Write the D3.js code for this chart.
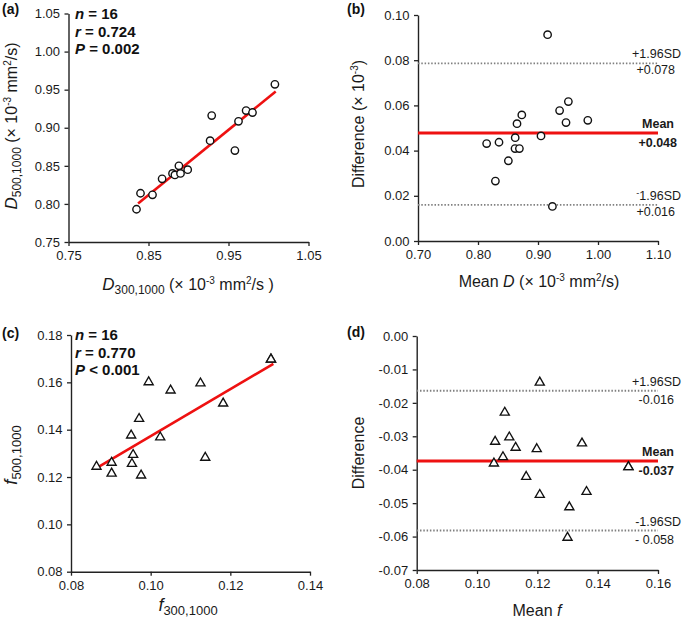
<!DOCTYPE html>
<html>
<head>
<meta charset="utf-8">
<script src="https://cdn.jsdelivr.net/npm/d3@7"></script>
<style>
  html, body { margin: 0; padding: 0; background: #fff; }
  svg { display: block; font-family: "Liberation Sans", Arial, Helvetica, sans-serif; }
</style>
</head>
<body>
<svg id="chart" width="685" height="624"></svg>
<script>
// ---------- DATA ----------
// Panel (a): D300,1000 vs D500,1000
const aX = [0.835, 0.840, 0.855, 0.867, 0.880, 0.883, 0.888, 0.890, 0.899, 0.927, 0.929, 0.958, 0.9625, 0.972, 0.980, 1.008];
const aY = [0.793, 0.814, 0.812, 0.833, 0.840, 0.838, 0.850, 0.840, 0.845, 0.883, 0.916, 0.870, 0.9085, 0.9226, 0.920, 0.957];
const aFitX = [0.837, 1.009];
const aFitY = [0.8005, 0.9476];
const aStats = [["n", " = 16"], ["r", " = 0.724"], ["P", " = 0.002"]];
const aXTicks = [0.75, 0.85, 0.95, 1.05];
const aYTicks = [0.75, 0.80, 0.85, 0.90, 0.95, 1.00, 1.05];

// Panel (b): Bland-Altman for D
const bX = [0.8144, 0.835, 0.829, 0.8506, 0.8617, 0.869, 0.862, 0.865, 0.873, 0.905, 0.916, 0.924, 0.936, 0.9506, 0.9467, 0.983];
const bY = [0.0431, 0.0437, 0.0265, 0.0355, 0.0409, 0.0409, 0.0457, 0.0519, 0.0558, 0.0465, 0.0913, 0.0153, 0.0577, 0.0617, 0.0524, 0.0534];
const bMean = 0.0478;
const bUpper = 0.0786;
const bLower = 0.0160;
const bLabels = { upper: "+1.96SD", upperVal: "+0.078", mean: "Mean", meanVal: "+0.048", lowerVal: "+0.016" };
const bXTicks = [0.70, 0.80, 0.90, 1.00, 1.10];
const bYTicks = [0.00, 0.02, 0.04, 0.06, 0.08, 0.10];

// Panel (c): f300,1000 vs f500,1000
const cX = [0.0864, 0.0902, 0.0902, 0.0951, 0.0956, 0.0953, 0.0971, 0.0976, 0.0995, 0.1024, 0.1050, 0.1125, 0.1137, 0.1182, 0.1302, 0.1302];
const cY = [0.1244, 0.1261, 0.1215, 0.1376, 0.1294, 0.1256, 0.1446, 0.1207, 0.1601, 0.1368, 0.1566, 0.1596, 0.1282, 0.1511, 0.1697, 0.1697];
const cFitX = [0.0866, 0.1308];
const cFitY = [0.1240, 0.1678];
const cStats = [["n", " = 16"], ["r", " = 0.770"], ["P", " < 0.001"]];
const cXTicks = [0.08, 0.10, 0.12, 0.14];
const cYTicks = [0.08, 0.10, 0.12, 0.14, 0.16, 0.18];

// Panel (d): Bland-Altman for f
const dX = [0.1056, 0.1060, 0.1086, 0.1092, 0.1107, 0.1128, 0.1163, 0.1198, 0.1208, 0.1208, 0.1306, 0.1300, 0.1348, 0.1363, 0.1502, 0.1502];
const dY = [-0.0381, -0.0316, -0.0362, -0.0229, -0.0303, -0.0334, -0.0421, -0.0338, -0.0139, -0.0475, -0.0512, -0.0603, -0.0321, -0.0466, -0.0392, -0.0392];
const dMean = -0.0374;
const dUpper = -0.0164;
const dLower = -0.0582;
const dLabels = { upper: "+1.96SD", upperVal: "-0.016", mean: "Mean", meanVal: "-0.037", lower: "-1.96SD", lowerVal: "- 0.058" };
const dXTicks = [0.08, 0.10, 0.12, 0.14, 0.16];
const dYTicks = [0.00, -0.01, -0.02, -0.03, -0.04, -0.05, -0.06, -0.07];

// ---------- DRAWING ----------
const svg = d3.select("#chart");
const fmt2 = d => d.toFixed(2);
const AXIS_COL = "#222";

function drawAxes(g, x, y, xTicks, yTicks) {
  const ax = g.append("g")
    .attr("transform", `translate(0,${y.range()[0]})`)
    .call(d3.axisBottom(x).tickValues(xTicks).tickFormat(fmt2).tickSize(4).tickSizeOuter(0).tickPadding(5));
  const ay = g.append("g")
    .attr("transform", `translate(${x.range()[0]},0)`)
    .call(d3.axisLeft(y).tickValues(yTicks).tickFormat(fmt2).tickSize(4).tickSizeOuter(0).tickPadding(4.5));
  [ax, ay].forEach(a => {
    a.selectAll("path.domain").attr("stroke", AXIS_COL).attr("stroke-width", 1.4);
    a.selectAll(".tick line").attr("stroke", AXIS_COL).attr("stroke-width", 1.3);
    a.selectAll(".tick text").attr("fill", "#1a1a1a").style("font-size", "13px")
      .style("font-family", '"Liberation Sans", Arial, sans-serif');
  });
}

function panelLabel(text, x, y) {
  svg.append("text").attr("x", x).attr("y", y).attr("font-weight", "bold")
    .style("font-size", "14px").attr("fill", "#111").text(text);
}

function stats(lines, x, y0, dy) {
  lines.forEach((l, i) => {
    const t = svg.append("text").attr("x", x).attr("y", y0 + i * dy)
      .attr("font-weight", "bold").style("font-size", "15px").attr("fill", "#111");
    t.append("tspan").attr("font-style", "italic").text(l[0]);
    t.append("tspan").text(l[1]);
  });
}

function circles(g, xs, ys, x, y) {
  g.selectAll("circle.pt").data(xs.map((v, i) => [v, ys[i]])).join("circle")
    .attr("class", "pt")
    .attr("cx", d => x(d[0])).attr("cy", d => y(d[1])).attr("r", 3.7)
    .attr("fill", "#fff").attr("stroke", "#111").attr("stroke-width", 1.4);
}

function triangles(g, xs, ys, x, y) {
  const sym = d3.symbol().type(d3.symbolTriangle).size(36);
  g.selectAll("path.pt").data(xs.map((v, i) => [v, ys[i]])).join("path")
    .attr("class", "pt")
    .attr("d", sym)
    .attr("transform", d => `translate(${x(d[0])},${y(d[1])})`)
    .attr("fill", "#fff").attr("stroke", "#111").attr("stroke-width", 1.35);
}

function fitLine(g, xs, ys, x, y) {
  g.append("path")
    .datum(xs.map((v, i) => [v, ys[i]]))
    .attr("d", d3.line().x(d => x(d[0])).y(d => y(d[1])))
    .attr("stroke", "#ee1111").attr("stroke-width", 2.6).attr("fill", "none");
}

function hLine(g, val, x, y, style) {
  const l = g.append("line")
    .attr("x1", x.range()[0]).attr("x2", x.range()[1])
    .attr("y1", y(val)).attr("y2", y(val));
  if (style === "mean") l.attr("stroke", "#ee1111").attr("stroke-width", 3);
  else l.attr("stroke", "#808080").attr("stroke-width", 1.9).attr("stroke-dasharray", "1.5,1.8");
}

function rightText(text, x, y, bold, rawNodes) {
  const t = svg.append("text").attr("x", x).attr("y", y).attr("text-anchor", "end")
    .style("font-size", "12.5px").attr("fill", "#1a1a1a");
  if (bold) t.attr("font-weight", "bold");
  if (rawNodes) rawNodes(t); else t.text(text);
  return t;
}

// ---- Panel (a)
{
  const x = d3.scaleLinear().domain([0.75, 1.05]).range([68.5, 308.5]);
  const y = d3.scaleLinear().domain([0.75, 1.05]).range([242, 13.5]);
  const g = svg.append("g");
  drawAxes(g, x, y, aXTicks, aYTicks);
  fitLine(g, aFitX, aFitY, x, y);
  circles(g, aX, aY, x, y);
  panelLabel("(a)", 2, 14);
  stats(aStats, 75, 19, 17.5);
  const xt = svg.append("text").attr("x", 188).attr("y", 290).attr("text-anchor", "middle")
    .style("font-size", "16px").attr("fill", "#1a1a1a");
  xt.append("tspan").attr("font-style", "italic").style("font-size", "17px").text("D");
  xt.append("tspan").style("font-size", "12px").attr("dy", 4).text("300,1000");
  xt.append("tspan").attr("dy", -4).text(" (× 10");
  xt.append("tspan").style("font-size", "10px").attr("dy", -6).text("-3");
  xt.append("tspan").attr("dy", 6).text(" mm");
  xt.append("tspan").style("font-size", "10px").attr("dy", -6).text("2");
  xt.append("tspan").attr("dy", 6).text("/s )");
  const yt = svg.append("text").attr("transform", "translate(17,126) rotate(-90)")
    .attr("text-anchor", "middle").style("font-size", "16px").attr("fill", "#1a1a1a");
  yt.append("tspan").attr("font-style", "italic").style("font-size", "17px").text("D");
  yt.append("tspan").style("font-size", "12px").attr("dy", 4).text("500,1000");
  yt.append("tspan").attr("dy", -4).text(" (× 10");
  yt.append("tspan").style("font-size", "10px").attr("dy", -6).text("-3");
  yt.append("tspan").attr("dy", 6).text(" mm");
  yt.append("tspan").style("font-size", "10px").attr("dy", -6).text("2");
  yt.append("tspan").attr("dy", 6).text("/s)");
}

// ---- Panel (b)
{
  const x = d3.scaleLinear().domain([0.70, 1.10]).range([418, 658]);
  const y = d3.scaleLinear().domain([0, 0.10]).range([241, 15]);
  const g = svg.append("g");
  drawAxes(g, x, y, bXTicks, bYTicks);
  hLine(g, bUpper, x, y, "sd");
  hLine(g, bLower, x, y, "sd");
  hLine(g, bMean, x, y, "mean");
  circles(g, bX, bY, x, y);
  panelLabel("(b)", 347, 14);
  rightText(bLabels.upper, 681, y(bUpper) - 5);
  rightText(bLabels.upperVal, 675, y(bUpper) + 11);
  rightText(bLabels.mean, 674, y(bMean) - 5, true);
  rightText(bLabels.meanVal, 677, y(bMean) + 14, true);
  rightText(null, 681, y(bLower) - 5, false, t => {
    t.append("tspan").style("font-size", "9px").attr("dy", -4).text("-");
    t.append("tspan").attr("dy", 4).text("1.96SD");
  });
  rightText(bLabels.lowerVal, 675, y(bLower) + 11);
  const xt = svg.append("text").attr("x", 539).attr("y", 287).attr("text-anchor", "middle")
    .style("font-size", "16px").attr("fill", "#1a1a1a");
  xt.append("tspan").text("Mean ");
  xt.append("tspan").attr("font-style", "italic").text("D");
  xt.append("tspan").text(" (× 10");
  xt.append("tspan").style("font-size", "10px").attr("dy", -6).text("-3");
  xt.append("tspan").attr("dy", 6).text(" mm");
  xt.append("tspan").style("font-size", "10px").attr("dy", -6).text("2");
  xt.append("tspan").attr("dy", 6).text("/s)");
  const yt = svg.append("text").attr("transform", "translate(364,124) rotate(-90)")
    .attr("text-anchor", "middle").style("font-size", "16px").attr("fill", "#1a1a1a");
  yt.append("tspan").text("Difference (× 10");
  yt.append("tspan").style("font-size", "10px").attr("dy", -6).text("-3");
  yt.append("tspan").attr("dy", 6).text(")");
}

// ---- Panel (c)
{
  const x = d3.scaleLinear().domain([0.08, 0.14]).range([71, 310]);
  const y = d3.scaleLinear().domain([0.08, 0.18]).range([571.7, 335]);
  const g = svg.append("g");
  drawAxes(g, x, y, cXTicks, cYTicks);
  fitLine(g, cFitX, cFitY, x, y);
  triangles(g, cX, cY, x, y);
  panelLabel("(c)", 2, 338);
  stats(cStats, 75, 340, 17.5);
  const xt = svg.append("text").attr("x", 188).attr("y", 611).attr("text-anchor", "middle")
    .style("font-size", "16px").attr("fill", "#1a1a1a");
  xt.append("tspan").attr("font-style", "italic").style("font-size", "18px").text("f");
  xt.append("tspan").style("font-size", "13px").attr("dy", 4).text("300,1000");
  const yt = svg.append("text").attr("transform", "translate(17,455) rotate(-90)")
    .attr("text-anchor", "middle").style("font-size", "16px").attr("fill", "#1a1a1a");
  yt.append("tspan").attr("font-style", "italic").style("font-size", "18px").text("f");
  yt.append("tspan").style("font-size", "13px").attr("dy", 4).text("500,1000");
}

// ---- Panel (d)
{
  const x = d3.scaleLinear().domain([0.08, 0.16]).range([416.7, 658]);
  const y = d3.scaleLinear().domain([-0.07, 0]).range([570, 336]);
  const g = svg.append("g");
  drawAxes(g, x, y, dXTicks, dYTicks);
  hLine(g, dUpper, x, y, "sd");
  hLine(g, dLower, x, y, "sd");
  hLine(g, dMean, x, y, "mean");
  triangles(g, dX, dY, x, y);
  panelLabel("(d)", 347, 337);
  rightText(dLabels.upper, 681, y(dUpper) - 5);
  rightText(dLabels.upperVal, 674, y(dUpper) + 13);
  rightText(dLabels.mean, 674, y(dMean) - 5, true);
  rightText(dLabels.meanVal, 674, y(dMean) + 14, true);
  rightText(dLabels.lower, 681, y(dLower) - 5);
  rightText(dLabels.lowerVal, 674, y(dLower) + 13);
  const xt = svg.append("text").attr("x", 537).attr("y", 616).attr("text-anchor", "middle")
    .style("font-size", "16px").attr("fill", "#1a1a1a");
  xt.append("tspan").text("Mean ");
  xt.append("tspan").attr("font-style", "italic").text("f");
  const yt = svg.append("text").attr("transform", "translate(364,453) rotate(-90)")
    .attr("text-anchor", "middle").style("font-size", "16px").attr("fill", "#1a1a1a");
  yt.append("tspan").text("Difference");
}
</script>
</body>
</html>
